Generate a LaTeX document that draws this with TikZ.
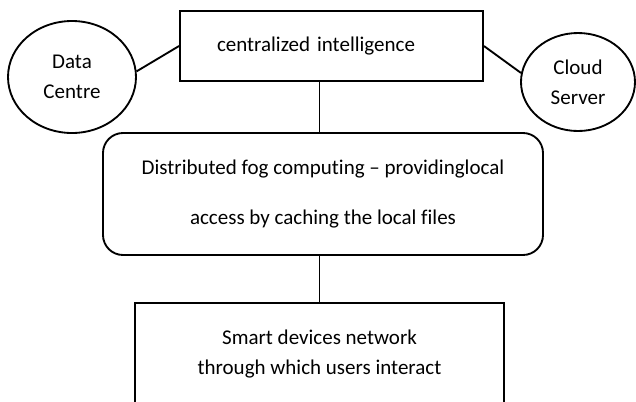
\documentclass[tikz,border=0pt]{standalone}
\usepackage{fontspec}
\setmainfont{Carlito}[Ligatures={TeX,NoCommon}]
\usetikzlibrary{shapes.geometric}

\begin{document}
\begin{tikzpicture}[
    x=0.75pt, y=-0.75pt,
    line width=1.4pt,
    txt/.style={font=\fontsize{15.75}{22.5}\selectfont},
    blob/.style={draw, ellipse, inner sep=0pt, txt, align=center},
    boxed/.style={draw, rectangle, txt, align=center},
  ]
    % page frame (pixel coordinates of the reference)
    \clip (0,0) rectangle (636,401);

    % === Central layer ===
    \node[boxed, minimum width=227.25pt, minimum height=52.5pt,
          text width=171.75pt, inner xsep=27.75pt, align=left] (ci) at (331.5,46) {centralized intelligence};

    % Data centre and cloud server
    \node[blob, minimum width=96pt, minimum height=84pt] (dc) at (72,77) {Data\\Centre};
    \node[blob, minimum width=85.5pt, minimum height=73.5pt] (cs) at (578,82) {Cloud\\Server};

    % === Fog layer ===
    \node[boxed, rounded corners=15pt, minimum width=330pt, minimum height=91.5pt] (fog) at (323,194)
      {Distributed fog computing – providinglocal\\[15pt]access by caching the local files};

    % === Device layer (cut at the bottom) ===
    \node[boxed, minimum width=276.75pt, minimum height=76.5pt] (dev) at (319.5,354)
      {Smart devices network\\through which users interact};

    % Links
    \draw (dc.5) -- (ci.west);
    \draw (ci.east) -- (cs.171);
    \draw (ci.south -| dev.north) -- (fog.north -| dev.north);
    \draw (fog.south -| dev.north) -- (dev.north);
  \end{tikzpicture}
\end{document}
